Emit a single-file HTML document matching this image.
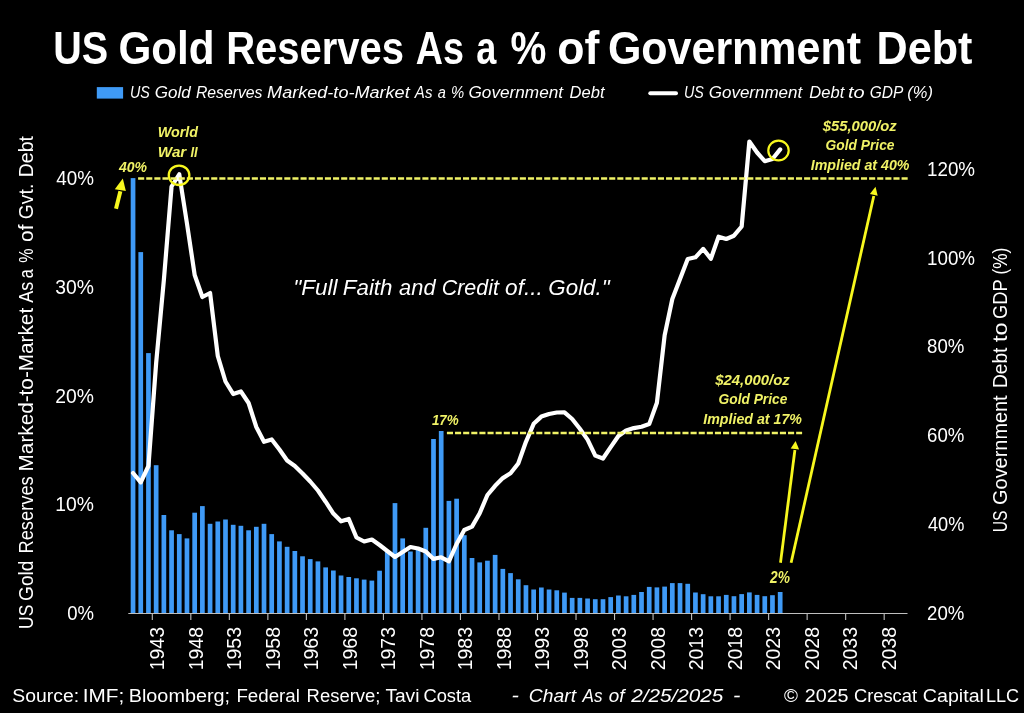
<!DOCTYPE html><html><head><meta charset="utf-8"><style>html,body{margin:0;padding:0;background:#000;overflow:hidden;}svg{display:block;will-change:transform;}text{font-family:"Liberation Sans",sans-serif;}</style></head><body>
<svg width="1024" height="713" viewBox="0 0 1024 713">
<rect width="1024" height="713" fill="#000"/>
<rect x="96.8" y="87.1" width="26.3" height="11.5" fill="#3f9af6"/>
<line x1="650.3" y1="93.3" x2="676" y2="93.3" stroke="#fff" stroke-width="4" stroke-linecap="round"/>
<g>
<rect x="130.69" y="178.1" width="4.7" height="435.4" fill="#3f9af6"/>
<rect x="138.40" y="252.1" width="4.7" height="361.4" fill="#3f9af6"/>
<rect x="146.10" y="353.1" width="4.7" height="260.4" fill="#3f9af6"/>
<rect x="153.80" y="465.2" width="4.7" height="148.3" fill="#3f9af6"/>
<rect x="161.51" y="515.0" width="4.7" height="98.5" fill="#3f9af6"/>
<rect x="169.21" y="530.3" width="4.7" height="83.2" fill="#3f9af6"/>
<rect x="176.92" y="534.1" width="4.7" height="79.4" fill="#3f9af6"/>
<rect x="184.62" y="538.4" width="4.7" height="75.1" fill="#3f9af6"/>
<rect x="192.32" y="512.7" width="4.7" height="100.8" fill="#3f9af6"/>
<rect x="200.03" y="506.1" width="4.7" height="107.4" fill="#3f9af6"/>
<rect x="207.73" y="523.8" width="4.7" height="89.7" fill="#3f9af6"/>
<rect x="215.44" y="521.5" width="4.7" height="92.0" fill="#3f9af6"/>
<rect x="223.14" y="519.5" width="4.7" height="94.0" fill="#3f9af6"/>
<rect x="230.84" y="524.8" width="4.7" height="88.7" fill="#3f9af6"/>
<rect x="238.55" y="525.8" width="4.7" height="87.7" fill="#3f9af6"/>
<rect x="246.25" y="530.3" width="4.7" height="83.2" fill="#3f9af6"/>
<rect x="253.96" y="526.8" width="4.7" height="86.7" fill="#3f9af6"/>
<rect x="261.66" y="523.8" width="4.7" height="89.7" fill="#3f9af6"/>
<rect x="269.36" y="534.1" width="4.7" height="79.4" fill="#3f9af6"/>
<rect x="277.07" y="541.4" width="4.7" height="72.1" fill="#3f9af6"/>
<rect x="284.77" y="546.8" width="4.7" height="66.7" fill="#3f9af6"/>
<rect x="292.48" y="551.0" width="4.7" height="62.5" fill="#3f9af6"/>
<rect x="300.18" y="556.3" width="4.7" height="57.2" fill="#3f9af6"/>
<rect x="307.88" y="559.1" width="4.7" height="54.4" fill="#3f9af6"/>
<rect x="315.59" y="561.4" width="4.7" height="52.1" fill="#3f9af6"/>
<rect x="323.29" y="567.4" width="4.7" height="46.1" fill="#3f9af6"/>
<rect x="331.00" y="570.5" width="4.7" height="43.0" fill="#3f9af6"/>
<rect x="338.70" y="575.5" width="4.7" height="38.0" fill="#3f9af6"/>
<rect x="346.40" y="577.0" width="4.7" height="36.5" fill="#3f9af6"/>
<rect x="354.11" y="578.3" width="4.7" height="35.2" fill="#3f9af6"/>
<rect x="361.81" y="579.6" width="4.7" height="33.9" fill="#3f9af6"/>
<rect x="369.52" y="580.6" width="4.7" height="32.9" fill="#3f9af6"/>
<rect x="377.22" y="570.7" width="4.7" height="42.8" fill="#3f9af6"/>
<rect x="384.92" y="551.0" width="4.7" height="62.5" fill="#3f9af6"/>
<rect x="392.63" y="503.1" width="4.7" height="110.4" fill="#3f9af6"/>
<rect x="400.33" y="538.4" width="4.7" height="75.1" fill="#3f9af6"/>
<rect x="408.04" y="551.5" width="4.7" height="62.0" fill="#3f9af6"/>
<rect x="415.74" y="549.0" width="4.7" height="64.5" fill="#3f9af6"/>
<rect x="423.44" y="527.8" width="4.7" height="85.7" fill="#3f9af6"/>
<rect x="431.15" y="439.0" width="4.7" height="174.5" fill="#3f9af6"/>
<rect x="438.85" y="431.0" width="4.7" height="182.5" fill="#3f9af6"/>
<rect x="446.56" y="500.9" width="4.7" height="112.6" fill="#3f9af6"/>
<rect x="454.26" y="498.7" width="4.7" height="114.8" fill="#3f9af6"/>
<rect x="461.96" y="535.2" width="4.7" height="78.3" fill="#3f9af6"/>
<rect x="469.67" y="558.0" width="4.7" height="55.5" fill="#3f9af6"/>
<rect x="477.37" y="562.4" width="4.7" height="51.1" fill="#3f9af6"/>
<rect x="485.08" y="560.7" width="4.7" height="52.8" fill="#3f9af6"/>
<rect x="492.78" y="554.9" width="4.7" height="58.6" fill="#3f9af6"/>
<rect x="500.48" y="568.9" width="4.7" height="44.6" fill="#3f9af6"/>
<rect x="508.19" y="573.1" width="4.7" height="40.4" fill="#3f9af6"/>
<rect x="515.89" y="579.3" width="4.7" height="34.2" fill="#3f9af6"/>
<rect x="523.60" y="585.2" width="4.7" height="28.3" fill="#3f9af6"/>
<rect x="531.30" y="589.5" width="4.7" height="24.0" fill="#3f9af6"/>
<rect x="539.00" y="587.5" width="4.7" height="26.0" fill="#3f9af6"/>
<rect x="546.71" y="589.5" width="4.7" height="24.0" fill="#3f9af6"/>
<rect x="554.41" y="590.3" width="4.7" height="23.2" fill="#3f9af6"/>
<rect x="562.12" y="592.6" width="4.7" height="20.9" fill="#3f9af6"/>
<rect x="569.82" y="597.9" width="4.7" height="15.6" fill="#3f9af6"/>
<rect x="577.52" y="597.9" width="4.7" height="15.6" fill="#3f9af6"/>
<rect x="585.23" y="598.5" width="4.7" height="15.0" fill="#3f9af6"/>
<rect x="592.93" y="599.2" width="4.7" height="14.3" fill="#3f9af6"/>
<rect x="600.64" y="599.2" width="4.7" height="14.3" fill="#3f9af6"/>
<rect x="608.34" y="597.1" width="4.7" height="16.4" fill="#3f9af6"/>
<rect x="616.04" y="595.5" width="4.7" height="18.0" fill="#3f9af6"/>
<rect x="623.75" y="596.3" width="4.7" height="17.2" fill="#3f9af6"/>
<rect x="631.45" y="594.9" width="4.7" height="18.6" fill="#3f9af6"/>
<rect x="639.16" y="592.0" width="4.7" height="21.5" fill="#3f9af6"/>
<rect x="646.86" y="586.9" width="4.7" height="26.6" fill="#3f9af6"/>
<rect x="654.56" y="587.4" width="4.7" height="26.1" fill="#3f9af6"/>
<rect x="662.27" y="586.6" width="4.7" height="26.9" fill="#3f9af6"/>
<rect x="669.97" y="583.1" width="4.7" height="30.4" fill="#3f9af6"/>
<rect x="677.68" y="583.1" width="4.7" height="30.4" fill="#3f9af6"/>
<rect x="685.38" y="583.8" width="4.7" height="29.7" fill="#3f9af6"/>
<rect x="693.08" y="592.5" width="4.7" height="21.0" fill="#3f9af6"/>
<rect x="700.79" y="594.2" width="4.7" height="19.3" fill="#3f9af6"/>
<rect x="708.49" y="596.3" width="4.7" height="17.2" fill="#3f9af6"/>
<rect x="716.20" y="596.3" width="4.7" height="17.2" fill="#3f9af6"/>
<rect x="723.90" y="594.9" width="4.7" height="18.6" fill="#3f9af6"/>
<rect x="731.60" y="596.2" width="4.7" height="17.3" fill="#3f9af6"/>
<rect x="739.31" y="594.1" width="4.7" height="19.4" fill="#3f9af6"/>
<rect x="747.01" y="592.4" width="4.7" height="21.1" fill="#3f9af6"/>
<rect x="754.72" y="594.9" width="4.7" height="18.6" fill="#3f9af6"/>
<rect x="762.42" y="596.2" width="4.7" height="17.3" fill="#3f9af6"/>
<rect x="770.12" y="595.2" width="4.7" height="18.3" fill="#3f9af6"/>
<rect x="777.83" y="592.0" width="4.7" height="21.5" fill="#3f9af6"/>
</g>
<line x1="128.3" y1="613.5" x2="907.5" y2="613.5" stroke="#bfbfbf" stroke-width="1.1"/>
<line x1="152.30" y1="613.5" x2="152.30" y2="620" stroke="#bfbfbf" stroke-width="1.1"/>
<line x1="190.82" y1="613.5" x2="190.82" y2="620" stroke="#bfbfbf" stroke-width="1.1"/>
<line x1="229.34" y1="613.5" x2="229.34" y2="620" stroke="#bfbfbf" stroke-width="1.1"/>
<line x1="267.86" y1="613.5" x2="267.86" y2="620" stroke="#bfbfbf" stroke-width="1.1"/>
<line x1="306.38" y1="613.5" x2="306.38" y2="620" stroke="#bfbfbf" stroke-width="1.1"/>
<line x1="344.90" y1="613.5" x2="344.90" y2="620" stroke="#bfbfbf" stroke-width="1.1"/>
<line x1="383.42" y1="613.5" x2="383.42" y2="620" stroke="#bfbfbf" stroke-width="1.1"/>
<line x1="421.94" y1="613.5" x2="421.94" y2="620" stroke="#bfbfbf" stroke-width="1.1"/>
<line x1="460.46" y1="613.5" x2="460.46" y2="620" stroke="#bfbfbf" stroke-width="1.1"/>
<line x1="498.98" y1="613.5" x2="498.98" y2="620" stroke="#bfbfbf" stroke-width="1.1"/>
<line x1="537.50" y1="613.5" x2="537.50" y2="620" stroke="#bfbfbf" stroke-width="1.1"/>
<line x1="576.02" y1="613.5" x2="576.02" y2="620" stroke="#bfbfbf" stroke-width="1.1"/>
<line x1="614.54" y1="613.5" x2="614.54" y2="620" stroke="#bfbfbf" stroke-width="1.1"/>
<line x1="653.06" y1="613.5" x2="653.06" y2="620" stroke="#bfbfbf" stroke-width="1.1"/>
<line x1="691.58" y1="613.5" x2="691.58" y2="620" stroke="#bfbfbf" stroke-width="1.1"/>
<line x1="730.10" y1="613.5" x2="730.10" y2="620" stroke="#bfbfbf" stroke-width="1.1"/>
<line x1="768.62" y1="613.5" x2="768.62" y2="620" stroke="#bfbfbf" stroke-width="1.1"/>
<line x1="807.14" y1="613.5" x2="807.14" y2="620" stroke="#bfbfbf" stroke-width="1.1"/>
<line x1="845.66" y1="613.5" x2="845.66" y2="620" stroke="#bfbfbf" stroke-width="1.1"/>
<line x1="884.18" y1="613.5" x2="884.18" y2="620" stroke="#bfbfbf" stroke-width="1.1"/>
<polyline points="133.04,473.0 140.75,482.3 148.45,466.0 156.15,363.0 163.86,280.0 171.56,186.5 179.27,174.3 186.97,223.5 194.67,275.0 202.38,297.0 210.08,293.0 217.79,356.0 225.49,381.5 233.19,394.0 240.90,391.5 248.60,403.0 256.31,427.0 264.01,441.8 271.71,439.4 279.42,449.5 287.12,460.5 294.83,466.0 302.53,473.5 310.23,481.5 317.94,490.5 325.64,501.7 333.35,513.6 341.05,521.3 348.75,519.0 356.46,537.5 364.16,541.5 371.87,539.5 379.57,545.0 387.27,551.0 394.98,557.0 402.68,552.0 410.39,547.0 418.09,548.5 425.79,551.5 433.50,558.9 441.20,557.3 448.91,561.3 456.61,544.0 464.31,530.0 472.02,526.6 479.72,513.2 487.43,495.0 495.13,485.8 502.83,478.1 510.54,473.3 518.24,463.5 525.95,441.8 533.65,423.8 541.35,416.6 549.06,414.0 556.76,412.5 564.47,412.3 572.17,419.0 579.87,428.8 587.58,439.6 595.28,455.6 602.99,458.5 610.69,447.1 618.39,436.0 626.10,430.5 633.80,428.1 641.51,426.7 649.21,424.1 656.91,402.8 664.62,335.4 672.32,299.0 680.03,279.0 687.73,259.0 695.43,257.3 703.14,248.9 710.84,258.8 718.55,236.7 726.25,239.0 733.95,235.7 741.66,226.5 749.36,141.5 757.07,152.5 764.77,161.2 772.47,159.0 780.18,149.4" fill="none" stroke="#fff" stroke-width="4.2" stroke-linejoin="round" stroke-linecap="round"/>
<line x1="138.1" y1="178.5" x2="908.1" y2="178.5" stroke="#f0f266" stroke-width="2.4" stroke-dasharray="6.1 2.022"/>
<line x1="446.9" y1="433.05" x2="802.1" y2="433.05" stroke="#f0f266" stroke-width="2.4" stroke-dasharray="6.1 2.022"/>
<ellipse cx="179.05" cy="175.3" rx="10.3" ry="9.7" fill="none" stroke="#f7f71e" stroke-width="2.3"/>
<ellipse cx="778.5" cy="150.5" rx="10.2" ry="9.8" fill="none" stroke="#f7f71e" stroke-width="2.2"/>
<line x1="116.0" y1="208.8" x2="120.35" y2="191.20" stroke="#f7f71e" stroke-width="4.0"/>
<polygon points="122.8,178.6 114.8,189.3 125.9,191.1" fill="#f7f71e"/>
<line x1="780.5" y1="562.8" x2="794.90" y2="450.05" stroke="#f7f71e" stroke-width="2.8"/>
<polygon points="795.6,440.9 790.7,448.5 799.1,449.6" fill="#f7f71e"/>
<line x1="791.1" y1="562.8" x2="873.80" y2="195.95" stroke="#f7f71e" stroke-width="2.8"/>
<polygon points="875.5,186.8 869.9,194.1 877.7,195.8" fill="#f7f71e"/>
<text x="53.32" y="64.0" font-size="46" font-weight="bold" font-style="normal" fill="#fff" textLength="54.92" lengthAdjust="spacingAndGlyphs">US</text>
<text x="118.46" y="64.0" font-size="46" font-weight="bold" font-style="normal" fill="#fff" textLength="96.17" lengthAdjust="spacingAndGlyphs">Gold</text>
<text x="226.19" y="64.0" font-size="46" font-weight="bold" font-style="normal" fill="#fff" textLength="177.82" lengthAdjust="spacingAndGlyphs">Reserves</text>
<text x="415.78" y="64.0" font-size="46" font-weight="bold" font-style="normal" fill="#fff" textLength="48.21" lengthAdjust="spacingAndGlyphs">As</text>
<text x="476.32" y="64.0" font-size="46" font-weight="bold" font-style="normal" fill="#fff" textLength="20.07" lengthAdjust="spacingAndGlyphs">a</text>
<text x="510.42" y="64.0" font-size="46" font-weight="bold" font-style="normal" fill="#fff" textLength="35.87" lengthAdjust="spacingAndGlyphs">%</text>
<text x="557.36" y="64.0" font-size="46" font-weight="bold" font-style="normal" fill="#fff" textLength="42.08" lengthAdjust="spacingAndGlyphs">of</text>
<text x="607.93" y="64.0" font-size="46" font-weight="bold" font-style="normal" fill="#fff" textLength="253.12" lengthAdjust="spacingAndGlyphs">Government</text>
<text x="876.59" y="64.0" font-size="46" font-weight="bold" font-style="normal" fill="#fff" textLength="95.83" lengthAdjust="spacingAndGlyphs">Debt</text>
<text x="130.00" y="97.9" font-size="15.8" font-weight="normal" font-style="italic" fill="#fff" textLength="19.86" lengthAdjust="spacingAndGlyphs">US</text>
<text x="154.72" y="97.9" font-size="15.8" font-weight="normal" font-style="italic" fill="#fff" textLength="36.00" lengthAdjust="spacingAndGlyphs">Gold</text>
<text x="195.90" y="97.9" font-size="15.8" font-weight="normal" font-style="italic" fill="#fff" textLength="66.63" lengthAdjust="spacingAndGlyphs">Reserves</text>
<text x="267.10" y="97.9" font-size="15.8" font-weight="normal" font-style="italic" fill="#fff" textLength="142.61" lengthAdjust="spacingAndGlyphs">Marked-to-Market</text>
<text x="414.85" y="97.9" font-size="15.8" font-weight="normal" font-style="italic" fill="#fff" textLength="17.56" lengthAdjust="spacingAndGlyphs">As</text>
<text x="437.80" y="97.9" font-size="15.8" font-weight="normal" font-style="italic" fill="#fff" textLength="8.11" lengthAdjust="spacingAndGlyphs">a</text>
<text x="451.06" y="97.9" font-size="15.8" font-weight="normal" font-style="italic" fill="#fff" textLength="13.18" lengthAdjust="spacingAndGlyphs">%</text>
<text x="468.51" y="97.9" font-size="15.8" font-weight="normal" font-style="italic" fill="#fff" textLength="94.52" lengthAdjust="spacingAndGlyphs">Government</text>
<text x="569.60" y="97.9" font-size="15.8" font-weight="normal" font-style="italic" fill="#fff" textLength="34.95" lengthAdjust="spacingAndGlyphs">Debt</text>
<text x="684.00" y="97.6" font-size="15.8" font-weight="normal" font-style="italic" fill="#fff" textLength="19.86" lengthAdjust="spacingAndGlyphs">US</text>
<text x="708.72" y="97.6" font-size="15.8" font-weight="normal" font-style="italic" fill="#fff" textLength="93.52" lengthAdjust="spacingAndGlyphs">Government</text>
<text x="809.30" y="97.6" font-size="15.8" font-weight="normal" font-style="italic" fill="#fff" textLength="34.95" lengthAdjust="spacingAndGlyphs">Debt</text>
<text x="848.03" y="97.6" font-size="15.8" font-weight="normal" font-style="italic" fill="#fff" textLength="16.70" lengthAdjust="spacingAndGlyphs">to</text>
<text x="869.72" y="97.6" font-size="15.8" font-weight="normal" font-style="italic" fill="#fff" textLength="33.51" lengthAdjust="spacingAndGlyphs">GDP</text>
<text x="907.26" y="97.6" font-size="15.8" font-weight="normal" font-style="italic" fill="#fff" textLength="25.65" lengthAdjust="spacingAndGlyphs">(%)</text>
<text x="12.37" y="701.8" font-size="18.75" font-weight="normal" font-style="normal" fill="#fff" textLength="66.71" lengthAdjust="spacingAndGlyphs">Source:</text>
<text x="82.69" y="701.8" font-size="18.75" font-weight="normal" font-style="normal" fill="#fff" textLength="41.47" lengthAdjust="spacingAndGlyphs">IMF;</text>
<text x="128.74" y="701.8" font-size="18.75" font-weight="normal" font-style="normal" fill="#fff" textLength="101.30" lengthAdjust="spacingAndGlyphs">Bloomberg;</text>
<text x="236.40" y="701.8" font-size="18.75" font-weight="normal" font-style="normal" fill="#fff" textLength="63.48" lengthAdjust="spacingAndGlyphs">Federal</text>
<text x="306.62" y="701.8" font-size="18.75" font-weight="normal" font-style="normal" fill="#fff" textLength="73.80" lengthAdjust="spacingAndGlyphs">Reserve;</text>
<text x="385.40" y="701.8" font-size="18.75" font-weight="normal" font-style="normal" fill="#fff" textLength="34.07" lengthAdjust="spacingAndGlyphs">Tavi</text>
<text x="423.42" y="701.8" font-size="18.75" font-weight="normal" font-style="normal" fill="#fff" textLength="47.86" lengthAdjust="spacingAndGlyphs">Costa</text>
<text x="511.62" y="701.8" font-size="18.75" font-weight="normal" font-style="italic" fill="#fff" textLength="7.38" lengthAdjust="spacingAndGlyphs">-</text>
<text x="528.87" y="701.8" font-size="18.75" font-weight="normal" font-style="italic" fill="#fff" textLength="47.26" lengthAdjust="spacingAndGlyphs">Chart</text>
<text x="582.61" y="701.8" font-size="18.75" font-weight="normal" font-style="italic" fill="#fff" textLength="19.99" lengthAdjust="spacingAndGlyphs">As</text>
<text x="608.80" y="701.8" font-size="18.75" font-weight="normal" font-style="italic" fill="#fff" textLength="15.73" lengthAdjust="spacingAndGlyphs">of</text>
<text x="631.30" y="701.8" font-size="18.75" font-weight="normal" font-style="italic" fill="#fff" textLength="92.06" lengthAdjust="spacingAndGlyphs">2/25/2025</text>
<text x="733.02" y="701.8" font-size="18.75" font-weight="normal" font-style="italic" fill="#fff" textLength="7.37" lengthAdjust="spacingAndGlyphs">-</text>
<text x="783.90" y="701.8" font-size="18.75" font-weight="normal" font-style="normal" fill="#fff" textLength="13.93" lengthAdjust="spacingAndGlyphs">©</text>
<text x="804.75" y="701.8" font-size="18.75" font-weight="normal" font-style="normal" fill="#fff" textLength="43.80" lengthAdjust="spacingAndGlyphs">2025</text>
<text x="853.92" y="701.8" font-size="18.75" font-weight="normal" font-style="normal" fill="#fff" textLength="63.10" lengthAdjust="spacingAndGlyphs">Crescat</text>
<text x="922.85" y="701.8" font-size="18.75" font-weight="normal" font-style="normal" fill="#fff" textLength="61.09" lengthAdjust="spacingAndGlyphs">Capital</text>
<text x="985.94" y="701.8" font-size="18.75" font-weight="normal" font-style="normal" fill="#fff" textLength="33.12" lengthAdjust="spacingAndGlyphs">LLC</text>
<text x="293.27" y="294.5" font-size="21.2" font-weight="normal" font-style="italic" fill="#fff" textLength="44.28" lengthAdjust="spacingAndGlyphs">&quot;Full</text>
<text x="342.85" y="294.5" font-size="21.2" font-weight="normal" font-style="italic" fill="#fff" textLength="49.62" lengthAdjust="spacingAndGlyphs">Faith</text>
<text x="399.10" y="294.5" font-size="21.2" font-weight="normal" font-style="italic" fill="#fff" textLength="36.44" lengthAdjust="spacingAndGlyphs">and</text>
<text x="441.79" y="294.5" font-size="21.2" font-weight="normal" font-style="italic" fill="#fff" textLength="57.13" lengthAdjust="spacingAndGlyphs">Credit</text>
<text x="505.13" y="294.5" font-size="21.2" font-weight="normal" font-style="italic" fill="#fff" textLength="37.77" lengthAdjust="spacingAndGlyphs">of...</text>
<text x="548.34" y="294.5" font-size="21.2" font-weight="normal" font-style="italic" fill="#fff" textLength="61.38" lengthAdjust="spacingAndGlyphs">Gold.&quot;</text>
<text transform="translate(33.20,0) rotate(-90)" x="-628.96" y="0" font-size="20.3" font-weight="normal" font-style="normal" fill="#fff" textLength="24.32" lengthAdjust="spacingAndGlyphs">US</text>
<text transform="translate(33.20,0) rotate(-90)" x="-601.05" y="0" font-size="20.3" font-weight="normal" font-style="normal" fill="#fff" textLength="40.54" lengthAdjust="spacingAndGlyphs">Gold</text>
<text transform="translate(33.20,0) rotate(-90)" x="-553.50" y="0" font-size="20.3" font-weight="normal" font-style="normal" fill="#fff" textLength="77.21" lengthAdjust="spacingAndGlyphs">Reserves</text>
<text transform="translate(33.20,0) rotate(-90)" x="-471.42" y="0" font-size="20.3" font-weight="normal" font-style="normal" fill="#fff" textLength="163.57" lengthAdjust="spacingAndGlyphs">Marked-to-Market</text>
<text transform="translate(33.20,0) rotate(-90)" x="-302.80" y="0" font-size="20.3" font-weight="normal" font-style="normal" fill="#fff" textLength="20.89" lengthAdjust="spacingAndGlyphs">As</text>
<text transform="translate(33.20,0) rotate(-90)" x="-278.30" y="0" font-size="20.3" font-weight="normal" font-style="normal" fill="#fff" textLength="9.03" lengthAdjust="spacingAndGlyphs">a</text>
<text transform="translate(33.20,0) rotate(-90)" x="-262.79" y="0" font-size="20.3" font-weight="normal" font-style="normal" fill="#fff" textLength="14.23" lengthAdjust="spacingAndGlyphs">%</text>
<text transform="translate(33.20,0) rotate(-90)" x="-241.93" y="0" font-size="20.3" font-weight="normal" font-style="normal" fill="#fff" textLength="17.34" lengthAdjust="spacingAndGlyphs">of</text>
<text transform="translate(33.20,0) rotate(-90)" x="-219.15" y="0" font-size="20.3" font-weight="normal" font-style="normal" fill="#fff" textLength="35.38" lengthAdjust="spacingAndGlyphs">Gvt.</text>
<text transform="translate(33.20,0) rotate(-90)" x="-177.16" y="0" font-size="20.3" font-weight="normal" font-style="normal" fill="#fff" textLength="41.01" lengthAdjust="spacingAndGlyphs">Debt</text>
<text transform="translate(1007.40,0) rotate(-90)" x="-532.37" y="0" font-size="20.3" font-weight="normal" font-style="normal" fill="#fff" textLength="21.71" lengthAdjust="spacingAndGlyphs">US</text>
<text transform="translate(1007.40,0) rotate(-90)" x="-504.88" y="0" font-size="20.3" font-weight="normal" font-style="normal" fill="#fff" textLength="109.50" lengthAdjust="spacingAndGlyphs">Government</text>
<text transform="translate(1007.40,0) rotate(-90)" x="-388.05" y="0" font-size="20.3" font-weight="normal" font-style="normal" fill="#fff" textLength="40.50" lengthAdjust="spacingAndGlyphs">Debt</text>
<text transform="translate(1007.40,0) rotate(-90)" x="-342.00" y="0" font-size="20.3" font-weight="normal" font-style="normal" fill="#fff" textLength="19.57" lengthAdjust="spacingAndGlyphs">to</text>
<text transform="translate(1007.40,0) rotate(-90)" x="-319.00" y="0" font-size="20.3" font-weight="normal" font-style="normal" fill="#fff" textLength="39.66" lengthAdjust="spacingAndGlyphs">GDP</text>
<text transform="translate(1007.40,0) rotate(-90)" x="-274.45" y="0" font-size="20.3" font-weight="normal" font-style="normal" fill="#fff" textLength="26.71" lengthAdjust="spacingAndGlyphs">(%)</text>
<text transform="translate(164.00,0) rotate(-90)" x="-670.29" y="0" font-size="19.6" font-weight="normal" font-style="normal" fill="#fff" textLength="43.28" lengthAdjust="spacingAndGlyphs">1943</text>
<text transform="translate(202.52,0) rotate(-90)" x="-670.29" y="0" font-size="19.6" font-weight="normal" font-style="normal" fill="#fff" textLength="43.28" lengthAdjust="spacingAndGlyphs">1948</text>
<text transform="translate(241.04,0) rotate(-90)" x="-670.29" y="0" font-size="19.6" font-weight="normal" font-style="normal" fill="#fff" textLength="43.28" lengthAdjust="spacingAndGlyphs">1953</text>
<text transform="translate(279.56,0) rotate(-90)" x="-670.29" y="0" font-size="19.6" font-weight="normal" font-style="normal" fill="#fff" textLength="43.28" lengthAdjust="spacingAndGlyphs">1958</text>
<text transform="translate(318.08,0) rotate(-90)" x="-670.29" y="0" font-size="19.6" font-weight="normal" font-style="normal" fill="#fff" textLength="43.28" lengthAdjust="spacingAndGlyphs">1963</text>
<text transform="translate(356.60,0) rotate(-90)" x="-670.29" y="0" font-size="19.6" font-weight="normal" font-style="normal" fill="#fff" textLength="43.28" lengthAdjust="spacingAndGlyphs">1968</text>
<text transform="translate(395.12,0) rotate(-90)" x="-670.29" y="0" font-size="19.6" font-weight="normal" font-style="normal" fill="#fff" textLength="43.28" lengthAdjust="spacingAndGlyphs">1973</text>
<text transform="translate(433.64,0) rotate(-90)" x="-670.29" y="0" font-size="19.6" font-weight="normal" font-style="normal" fill="#fff" textLength="43.28" lengthAdjust="spacingAndGlyphs">1978</text>
<text transform="translate(472.16,0) rotate(-90)" x="-670.29" y="0" font-size="19.6" font-weight="normal" font-style="normal" fill="#fff" textLength="43.28" lengthAdjust="spacingAndGlyphs">1983</text>
<text transform="translate(510.68,0) rotate(-90)" x="-670.29" y="0" font-size="19.6" font-weight="normal" font-style="normal" fill="#fff" textLength="43.28" lengthAdjust="spacingAndGlyphs">1988</text>
<text transform="translate(549.20,0) rotate(-90)" x="-670.29" y="0" font-size="19.6" font-weight="normal" font-style="normal" fill="#fff" textLength="43.28" lengthAdjust="spacingAndGlyphs">1993</text>
<text transform="translate(587.72,0) rotate(-90)" x="-670.29" y="0" font-size="19.6" font-weight="normal" font-style="normal" fill="#fff" textLength="43.28" lengthAdjust="spacingAndGlyphs">1998</text>
<text transform="translate(626.24,0) rotate(-90)" x="-670.29" y="0" font-size="19.6" font-weight="normal" font-style="normal" fill="#fff" textLength="43.28" lengthAdjust="spacingAndGlyphs">2003</text>
<text transform="translate(664.76,0) rotate(-90)" x="-670.29" y="0" font-size="19.6" font-weight="normal" font-style="normal" fill="#fff" textLength="43.28" lengthAdjust="spacingAndGlyphs">2008</text>
<text transform="translate(703.28,0) rotate(-90)" x="-670.29" y="0" font-size="19.6" font-weight="normal" font-style="normal" fill="#fff" textLength="43.28" lengthAdjust="spacingAndGlyphs">2013</text>
<text transform="translate(741.80,0) rotate(-90)" x="-670.29" y="0" font-size="19.6" font-weight="normal" font-style="normal" fill="#fff" textLength="43.28" lengthAdjust="spacingAndGlyphs">2018</text>
<text transform="translate(780.32,0) rotate(-90)" x="-670.29" y="0" font-size="19.6" font-weight="normal" font-style="normal" fill="#fff" textLength="43.28" lengthAdjust="spacingAndGlyphs">2023</text>
<text transform="translate(818.84,0) rotate(-90)" x="-670.29" y="0" font-size="19.6" font-weight="normal" font-style="normal" fill="#fff" textLength="43.28" lengthAdjust="spacingAndGlyphs">2028</text>
<text transform="translate(857.36,0) rotate(-90)" x="-670.29" y="0" font-size="19.6" font-weight="normal" font-style="normal" fill="#fff" textLength="43.28" lengthAdjust="spacingAndGlyphs">2033</text>
<text transform="translate(895.88,0) rotate(-90)" x="-670.29" y="0" font-size="19.6" font-weight="normal" font-style="normal" fill="#fff" textLength="43.28" lengthAdjust="spacingAndGlyphs">2038</text>
<text x="67.16" y="620.1" font-size="19.8" font-weight="normal" font-style="normal" fill="#fff" textLength="26.79" lengthAdjust="spacingAndGlyphs">0%</text>
<text x="55.32" y="511.41" font-size="19.8" font-weight="normal" font-style="normal" fill="#fff" textLength="38.66" lengthAdjust="spacingAndGlyphs">10%</text>
<text x="55.32" y="402.72" font-size="19.8" font-weight="normal" font-style="normal" fill="#fff" textLength="38.66" lengthAdjust="spacingAndGlyphs">20%</text>
<text x="55.32" y="294.03000000000003" font-size="19.8" font-weight="normal" font-style="normal" fill="#fff" textLength="38.66" lengthAdjust="spacingAndGlyphs">30%</text>
<text x="56.30" y="185.34" font-size="19.8" font-weight="normal" font-style="normal" fill="#fff" textLength="37.66" lengthAdjust="spacingAndGlyphs">40%</text>
<text x="927.06" y="620.15" font-size="19.8" font-weight="normal" font-style="normal" fill="#fff" textLength="37.30" lengthAdjust="spacingAndGlyphs">20%</text>
<text x="928.00" y="531.25" font-size="19.8" font-weight="normal" font-style="normal" fill="#fff" textLength="36.35" lengthAdjust="spacingAndGlyphs">40%</text>
<text x="927.06" y="442.34999999999997" font-size="19.8" font-weight="normal" font-style="normal" fill="#fff" textLength="37.30" lengthAdjust="spacingAndGlyphs">60%</text>
<text x="927.06" y="353.44999999999993" font-size="19.8" font-weight="normal" font-style="normal" fill="#fff" textLength="37.30" lengthAdjust="spacingAndGlyphs">80%</text>
<text x="927.05" y="264.54999999999995" font-size="19.8" font-weight="normal" font-style="normal" fill="#fff" textLength="48.01" lengthAdjust="spacingAndGlyphs">100%</text>
<text x="927.05" y="175.64999999999995" font-size="19.8" font-weight="normal" font-style="normal" fill="#fff" textLength="48.01" lengthAdjust="spacingAndGlyphs">120%</text>
<text x="157.72" y="137.2" font-size="14.6" font-weight="bold" font-style="italic" fill="#f0f266" textLength="40.28" lengthAdjust="spacingAndGlyphs">World</text>
<text x="157.86" y="157.1" font-size="14.6" font-weight="bold" font-style="italic" fill="#f0f266" textLength="28.43" lengthAdjust="spacingAndGlyphs">War</text>
<text x="190.50" y="157.1" font-size="14.6" font-weight="bold" font-style="italic" fill="#f0f266" textLength="7.21" lengthAdjust="spacingAndGlyphs">II</text>
<text x="119.00" y="171.7" font-size="14.8" font-weight="bold" font-style="italic" fill="#f0f266" textLength="28.05" lengthAdjust="spacingAndGlyphs">40%</text>
<text x="431.90" y="424.9" font-size="14.8" font-weight="bold" font-style="italic" fill="#f0f266" textLength="26.86" lengthAdjust="spacingAndGlyphs">17%</text>
<text x="770.00" y="582.5" font-size="15.6" font-weight="bold" font-style="italic" fill="#f0f266" textLength="19.88" lengthAdjust="spacingAndGlyphs">2%</text>
<text x="822.70" y="130.8" font-size="14.5" font-weight="bold" font-style="italic" fill="#f0f266" textLength="74.05" lengthAdjust="spacingAndGlyphs">$55,000/oz</text>
<text x="825.55" y="150.4" font-size="14.5" font-weight="bold" font-style="italic" fill="#f0f266" textLength="68.96" lengthAdjust="spacingAndGlyphs">Gold Price</text>
<text x="810.70" y="169.9" font-size="14.5" font-weight="bold" font-style="italic" fill="#f0f266" textLength="98.84" lengthAdjust="spacingAndGlyphs">Implied at 40%</text>
<text x="715.20" y="385.2" font-size="14.5" font-weight="bold" font-style="italic" fill="#f0f266" textLength="74.65" lengthAdjust="spacingAndGlyphs">$24,000/oz</text>
<text x="718.55" y="404.2" font-size="14.5" font-weight="bold" font-style="italic" fill="#f0f266" textLength="68.75" lengthAdjust="spacingAndGlyphs">Gold Price</text>
<text x="703.30" y="423.8" font-size="14.5" font-weight="bold" font-style="italic" fill="#f0f266" textLength="98.64" lengthAdjust="spacingAndGlyphs">Implied at 17%</text>
</svg></body></html>
